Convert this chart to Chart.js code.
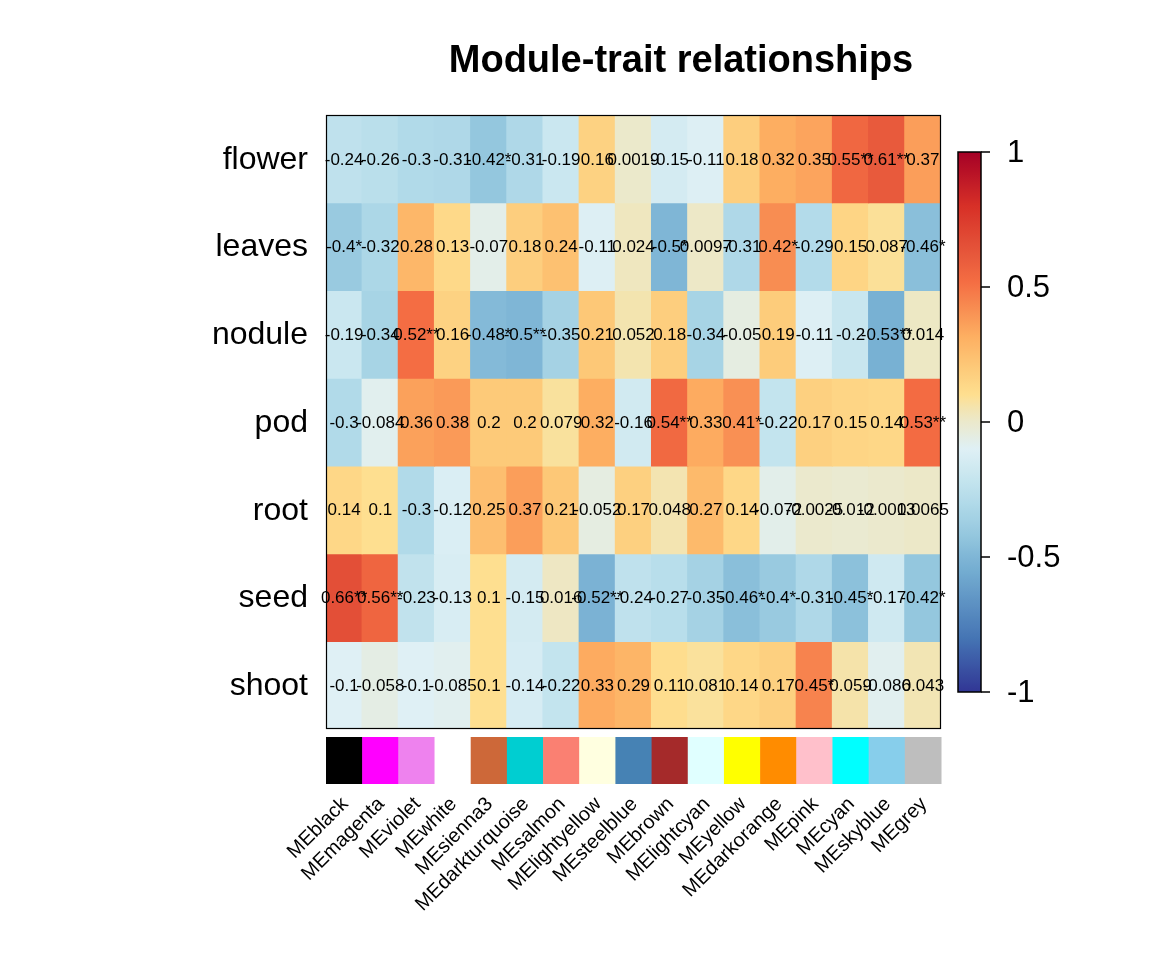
<!DOCTYPE html>
<html>
<head>
<meta charset="utf-8">
<script src="https://cdn.jsdelivr.net/npm/chart.js@4/dist/chart.umd.min.js"></script>
<style>
html,body{margin:0;padding:0;background:#fff;}
canvas{display:block;}
</style>
</head>
<body>
<canvas id="c" width="1152" height="960"></canvas>
<script>
const traits = ['flower','leaves','nodule','pod','root','seed','shoot'];
const modules = ['MEblack','MEmagenta','MEviolet','MEwhite','MEsienna3','MEdarkturquoise','MEsalmon','MElightyellow','MEsteelblue','MEbrown','MElightcyan','MEyellow','MEdarkorange','MEpink','MEcyan','MEskyblue','MEgrey'];
const moduleColors = ['#000000','#ff00ff','#ee82ee','#ffffff','#cd6839','#00ced1','#fa8072','#ffffe0','#4682b4','#a52a2a','#e0ffff','#ffff00','#ff8c00','#ffc0cb','#00ffff','#87ceeb','#bebebe'];

const flowerR = [-0.24,-0.26,-0.3,-0.31,-0.42,-0.31,-0.19,0.16,0.0019,-0.15,-0.11,0.18,0.32,0.35,0.55,0.61,0.37];
const leavesR = [-0.4,-0.32,0.28,0.13,-0.07,0.18,0.24,-0.11,0.024,-0.5,0.0097,-0.31,0.42,-0.29,0.15,0.087,-0.46];
const noduleR = [-0.19,-0.34,0.52,0.16,-0.48,-0.5,-0.35,0.21,0.052,0.18,-0.34,-0.05,0.19,-0.11,-0.2,-0.53,0.014];
const podR    = [-0.3,-0.084,0.36,0.38,0.2,0.2,0.079,0.32,-0.16,0.54,0.33,0.41,-0.22,0.17,0.15,0.14,0.53];
const rootR   = [0.14,0.1,-0.3,-0.12,0.25,0.37,0.21,-0.052,0.17,0.048,0.27,0.14,-0.072,-0.0025,-0.012,-0.0013,0.0065];
const seedR   = [0.66,0.56,-0.23,-0.13,0.1,-0.15,0.016,-0.52,-0.24,-0.27,-0.35,-0.46,-0.4,-0.31,-0.45,-0.17,-0.42];
const shootR  = [-0.1,-0.058,-0.1,-0.085,0.1,-0.14,-0.22,0.33,0.29,0.11,0.081,0.14,0.17,0.45,0.059,-0.086,0.043];

const flowerS = ['','','','','*','','','','','','','','','','**','**',''];
const leavesS = ['*','','','','','','','','','*','','','*','','','','*'];
const noduleS = ['','','**','','*','**','','','','','','','','','','**',''];
const podS    = ['','','','','','','','','','**','','*','','','','','**'];
const rootS   = ['','','','','','','','','','','','','','','','',''];
const seedS   = ['**','**','','','','','','**','','','','*','*','','*','','*'];
const shootS  = ['','','','','','','','','','','','','','*','','',''];

const corr = [flowerR, leavesR, noduleR, podR, rootR, seedR, shootR];
const stars = [flowerS, leavesS, noduleS, podS, rootS, seedS, shootS];

const cbTicks = [1, 0.5, 0, -0.5, -1];
const cbTickLabels = ['1','0.5','0','-0.5','-1'];

const stops = [
  [-1.0,'#313695'],[-0.8,'#4575b4'],[-0.55,'#74add1'],[-0.5,'#7fb6d6'],[-0.42,'#94c7de'],
  [-0.3,'#b1dae9'],[-0.2,'#c8e6ef'],[-0.1,'#dff0f5'],[0,'#ebe9cc'],[0.05,'#f3e4b0'],
  [0.1,'#fedf90'],[0.2,'#fdca79'],[0.32,'#fdae61'],[0.42,'#f88d52'],[0.52,'#f46d43'],
  [0.61,'#e85a3c'],[0.66,'#e34f37'],[0.8,'#d73027'],[1.0,'#a50026']
];
function hex2rgb(h){return [parseInt(h.substr(1,2),16),parseInt(h.substr(3,2),16),parseInt(h.substr(5,2),16)];}
function colorFor(v){
  if (v <= stops[0][0]) return stops[0][1];
  for (let i=1;i<stops.length;i++){
    if (v <= stops[i][0]){
      const t=(v-stops[i-1][0])/(stops[i][0]-stops[i-1][0]);
      const a=hex2rgb(stops[i-1][1]), b=hex2rgb(stops[i][1]);
      const c=a.map((x,k)=>Math.round(x+(b[k]-x)*t));
      return 'rgb('+c.join(',')+')';
    }
  }
  return stops[stops.length-1][1];
}

const FONT = '"Liberation Sans", Arial, Helvetica, sans-serif';

const decor = {
  id:'decor',
  beforeDraw(chart){
    const c=chart.ctx; c.save(); c.fillStyle='#fff'; c.fillRect(0,0,chart.width,chart.height); c.restore();
  },
  afterDatasetsDraw(chart){
    const c=chart.ctx, ca=chart.chartArea;
    c.save();
    c.fillStyle='#000';
    c.font='17px '+FONT;
    c.textAlign='center'; c.textBaseline='middle';
    chart.data.datasets.forEach((ds,r)=>{
      const meta=chart.getDatasetMeta(r);
      meta.data.forEach((bar,i)=>{
        const p=bar.getProps(['x','y','base'],true);
        c.fillText(String(corr[r][i])+stars[r][i], p.x, (p.y+p.base)/2+1);
      });
    });
    c.strokeStyle='#000'; c.lineWidth=1.2;
    c.strokeRect(ca.left+0.5, ca.top+0.5, ca.right-ca.left-1, ca.bottom-ca.top-1);
    c.restore();
  },
  afterDraw(chart){
    const c=chart.ctx, ca=chart.chartArea;
    const meta=chart.getDatasetMeta(0);
    c.save();
    // title
    c.fillStyle='#000';
    c.font='bold 38px '+FONT;
    c.textAlign='center'; c.textBaseline='alphabetic';
    c.fillText('Module-trait relationships', 681, 72);
    // row labels
    c.font='32px '+FONT;
    c.textAlign='right'; c.textBaseline='middle';
    traits.forEach((t,r)=>{
      const bar=chart.getDatasetMeta(r).data[0].getProps(['y','base'],true);
      c.fillText(t, 308, (bar.y+bar.base)/2+1);
    });
    // module color strip
    meta.data.forEach((bar,i)=>{
      const p=bar.getProps(['x','width'],true);
      c.fillStyle=moduleColors[i];
      c.fillRect(p.x-p.width/2, 737, p.width+0.5, 47);
    });
    // x labels rotated
    c.fillStyle='#000';
    c.font='20px '+FONT;
    c.textAlign='right'; c.textBaseline='middle';
    meta.data.forEach((bar,i)=>{
      const p=bar.getProps(['x'],true);
      c.save();
      c.translate(p.x+1, 801);
      c.rotate(-Math.PI/4);
      c.fillText(modules[i], 0, 0);
      c.restore();
    });
    // colorbar
    const cbL=958, cbR=981, cbT=152, cbB=692;
    const g=c.createLinearGradient(0,cbB,0,cbT);
    for (let k=0;k<=100;k++){ const v=-1+2*k/100; g.addColorStop(k/100, colorFor(v)); }
    c.fillStyle=g;
    c.fillRect(cbL,cbT,cbR-cbL,cbB-cbT);
    c.strokeStyle='#000'; c.lineWidth=1.5;
    c.strokeRect(cbL,cbT,cbR-cbL,cbB-cbT);
    c.font='31px '+FONT;
    c.textAlign='left'; c.textBaseline='middle';
    c.fillStyle='#000';
    cbTicks.forEach((v,k)=>{
      const y=cbT+(1-v)/2*(cbB-cbT);
      c.beginPath(); c.moveTo(cbR,y); c.lineTo(cbR+9,y); c.stroke();
      c.fillText(cbTickLabels[k], 1007, y+1);
    });
    c.restore();
  }
};

new Chart(document.getElementById('c').getContext('2d'), {
  type:'bar',
  data:{
    labels: modules,
    datasets: traits.map((t,r)=>({
      label:t,
      data: modules.map(()=>[r, r+1]),
      backgroundColor: corr[r].map(colorFor),
      borderWidth:0,
      barPercentage:1,
      categoryPercentage:1,
      grouped:false,
      inflateAmount:0.6
    }))
  },
  options:{
    responsive:false,
    animation:false,
    devicePixelRatio:1,
    layout:{padding:{left:326,right:211,top:115,bottom:231}},
    plugins:{legend:{display:false},tooltip:{enabled:false},title:{display:false}},
    scales:{
      x:{display:false, offset:true},
      y:{display:false, min:0, max:7, reverse:true}
    }
  },
  plugins:[decor]
});
</script>
</body>
</html>
